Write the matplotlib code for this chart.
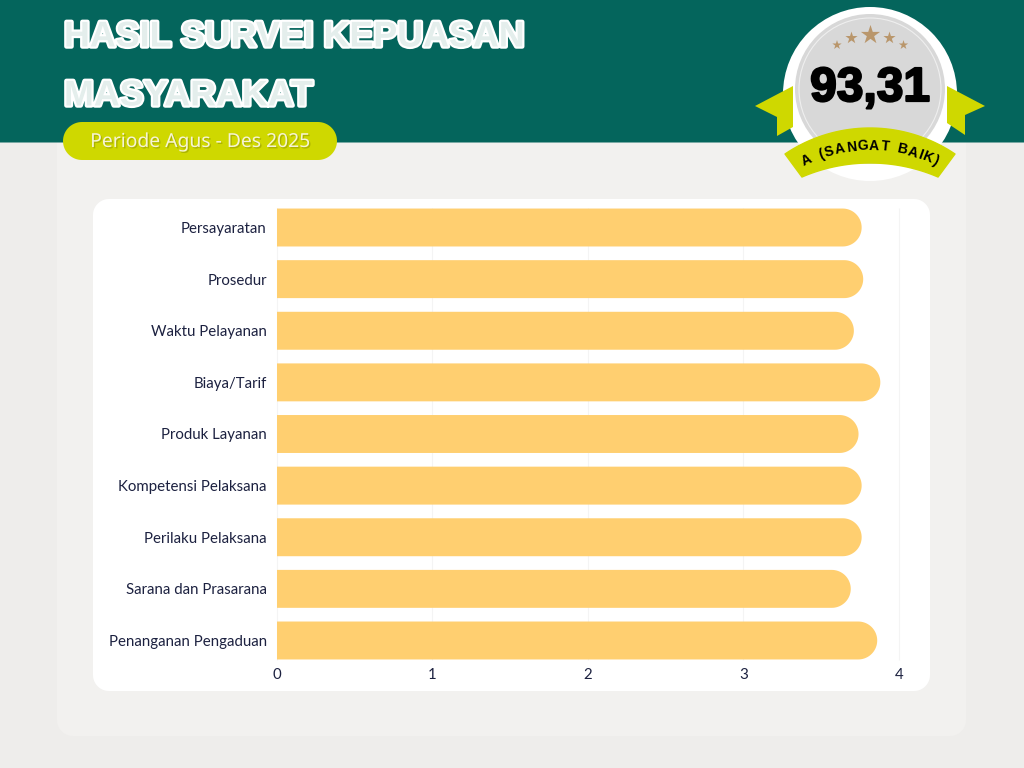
import matplotlib
matplotlib.use("Agg")
import matplotlib.pyplot as plt
import matplotlib.patheffects as pe
from matplotlib.patches import Circle, Polygon
from matplotlib.textpath import TextPath
from matplotlib.font_manager import FontProperties
import numpy as np

# data
categories = ["Persayaratan", "Prosedur", "Waktu Pelayanan", "Biaya/Tarif", "Produk Layanan",
              "Kompetensi Pelaksana", "Perilaku Pelaksana", "Sarana dan Prasarana", "Penanganan Pengaduan"]
values = [3.76, 3.77, 3.71, 3.88, 3.74, 3.76, 3.76, 3.69, 3.86]
x_ticks = [0, 1, 2, 3, 4]
title_lines = ["HASIL SURVEI KEPUASAN", "MASYARAKAT"]
period = "Periode Agus - Des 2025"
score = "93,31"
grade = "A (SANGAT BAIK)"

TEAL = "#04655c"
LIME = "#cfd800"
BAR = "#ffcf70"
NAVY = "#1c2140"
GOLD = "#b9966b"

fig = plt.figure(figsize=(10.24, 7.68), dpi=100, facecolor="#eeedeb")

# ===============================
# Background layer, in pixels
# ===============================
bg = fig.add_axes([0, 0, 1, 1])
bg.set_xlim(0, 1024)
bg.set_ylim(768, 0)
bg.axis("off")


def rbox(x0, y0, x1, y1, r, **kw):
    # true circular corners, FancyBboxPatch gives squarer ones
    t = np.linspace(0, np.pi / 2, 16)
    s, c = r * np.sin(t), r * np.cos(t)
    xs = np.r_[x1 - r + s, x1 - r + c, x0 + r - s, x0 + r - c]
    ys = np.r_[y0 + r - c, y1 - r + s, y1 - r + c, y0 + r - s]
    bg.fill(xs, ys, lw=0, **kw)


rbox(57, 100, 966, 736, 16, fc="#f2f1ef")
rbox(-30, -30, 1060, 142.5, 13, fc=TEAL)
rbox(93, 199, 930, 691, 16, fc="white")
rbox(63, 122, 337, 160, 19, fc=LIME)

for line, y in zip(title_lines, [37, 96]):
    bg.text(64, y, line, family="Liberation Sans", weight="bold", fontsize=25.8, color="#e4eeec",
            va="center", ha="left",
            path_effects=[pe.withStroke(linewidth=3.2, foreground="white", joinstyle="round")])

bg.text(200, 142, period, family="Noto Sans", fontsize=13.9, color="#f6f3d6", ha="center", va="center",
        path_effects=[pe.withSimplePatchShadow(offset=(1, -1), shadow_rgbFace="#8a9000", alpha=0.5)])

# ===============================
# Badge
# ===============================
# grey wedges peeking out under the white disc
bg.add_patch(Polygon([(795, 150), (812, 126), (830, 170)], fc="#d3d3d3", lw=0, zorder=2))
bg.add_patch(Polygon([(945, 150), (928, 126), (910, 170)], fc="#d3d3d3", lw=0, zorder=2))
bg.add_patch(Circle((870, 94), 87, fc="white", lw=0, zorder=3))
bg.add_patch(Polygon([(755, 106), (793, 86), (793, 127), (777, 136), (777, 117)], fc=LIME, lw=0, zorder=4))
bg.add_patch(Polygon([(985, 106), (947, 86), (947, 123), (965, 135), (965, 115)], fc=LIME, lw=0, zorder=4))
bg.add_patch(Circle((870, 89), 75, fc="#d8d8d8", lw=0, zorder=5))
bg.add_patch(Circle((870, 89), 71, fc="none", ec="#efefef", lw=0.8, zorder=6))

star_x = [837, 851.5, 870.5, 889.5, 903.5]
star_y = [45, 38, 35, 38, 45]
star_s = [50, 85, 210, 85, 50]
bg.scatter(star_x, star_y, s=star_s, marker="*", color=GOLD, lw=0, zorder=7)

bg.text(870, 88.5, score, family="Liberation Sans", weight="bold", fontsize=34.5, color="black",
        ha="center", va="center", zorder=7,
        path_effects=[pe.withStroke(linewidth=1.6, foreground="black")])

# banner: two arcs, top and bottom edge
arc_cx = 870
top_r = 152
bot_r = 172
top_cy = 128 + top_r
bot_cy = 163 + bot_r
a_top = np.radians(np.linspace(-34, 34, 40))
a_bot = np.radians(np.linspace(23.3, -23.3, 40))
pts = list(zip(arc_cx + top_r * np.sin(a_top), top_cy - top_r * np.cos(a_top)))
pts += list(zip(arc_cx + bot_r * np.sin(a_bot), bot_cy - bot_r * np.cos(a_bot)))
bg.add_patch(Polygon(pts, fc=LIME, ec=LIME, lw=1, joinstyle="round", zorder=8))

# grade text placed letter by letter along an arc
fp = FontProperties(family="Liberation Sans", weight="bold", size=10)
widths = np.array([TextPath((0, 0), c, prop=fp).get_extents().width if c != " " else 3 for c in grade]) + 1.5
txt_r = 150
txt_cy = 146 + txt_r
span = 142 / txt_r
steps = widths / widths.sum() * span
pos = -span / 2
for c, step in zip(grade, steps):
    ang = pos + step / 2
    pos += step
    bg.text(arc_cx + txt_r * np.sin(ang), txt_cy - txt_r * np.cos(ang), c, fontproperties=fp, color="black",
            rotation=-np.degrees(ang), rotation_mode="anchor", ha="center", va="center", zorder=9)

# ===============================
# Chart
# ===============================
ax = fig.add_axes([276.5 / 1024, 1 - 666.3 / 768, (899 - 276.5) / 1024, 464.6 / 768])
ax.set_facecolor("none")
ax.set_xlim(0, 4)
ax.set_ylim(len(categories) - 0.5, -0.5)
for s in ax.spines.values():
    s.set_visible(False)

ax.vlines(x_ticks, -0.38, len(categories) - 0.62, color="#f4f4f4", lw=0.8, zorder=1, clip_on=False)

# bar ends: half circle of 19 px, in data units on each axis
end_x = 19 / 155.6
bar_h = 0.735
t = np.linspace(-np.pi / 2, np.pi / 2, 40)
for i, v in enumerate(values):
    xs = np.r_[0, v - end_x + end_x * np.cos(t), 0]
    ys = np.r_[i - bar_h / 2, i + bar_h / 2 * np.sin(t), i + bar_h / 2]
    ax.fill(xs, ys, fc=BAR, lw=0, zorder=2)

ax.set_xticks(x_ticks)
ax.set_yticks(range(len(categories)))
ax.set_yticklabels(categories)
ax.tick_params(axis="both", length=0, labelcolor=NAVY, labelsize=10.85)
ax.tick_params(axis="y", pad=7)
ax.tick_params(axis="x", pad=1.5)
for lab in ax.get_xticklabels() + ax.get_yticklabels():
    lab.set_family("Lato")

fig.savefig("out.png", dpi=100, facecolor=fig.get_facecolor())
